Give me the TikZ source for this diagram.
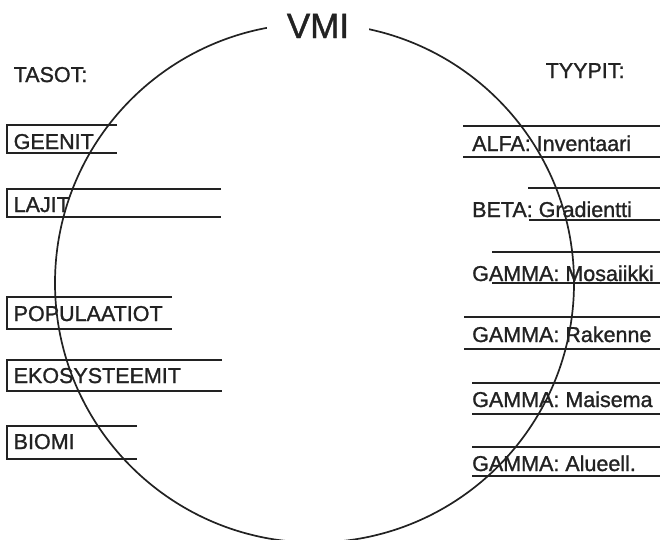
\documentclass[tikz,border=0pt]{standalone}
\usepackage{fontspec}
\setmainfont{Liberation Sans}[FakeBold=1.2]
\definecolor{ink}{HTML}{222222}
\begin{document}
\begin{tikzpicture}[x=1pt,y=-1pt,
  rule/.style={draw=ink, line width=1.7pt},
  lbl/.style={anchor=base west, inner sep=0pt, text=ink, font=\fontsize{21.5}{24}\selectfont}]
\useasboundingbox (0,0) rectangle (660,539);
% big circle
\coordinate (c) at (314.5,283);
\draw[rule] (c) circle[radius=259.5pt];
\node[anchor=base, fill=white, inner xsep=20pt, inner ysep=3pt, text=ink,
      font=\fontsize{35}{40}\selectfont] (vmi) at (318,38) {VMI};
% headings
\node[lbl] (tasot) at (13.5,82) {TASOT:};
\node[lbl] (tyypit) at (545.5,78) {TYYPIT:};
% left: levels
\draw[rule] (117,125) -- (7,125) -- (7,153) -- (117,153);
\node[lbl] (geenit) at (13.5,149) {GEENIT};
\draw[rule] (221,189) -- (7,189) -- (7,217) -- (221,217);
\node[lbl] (lajit) at (13.5,212) {LAJIT};
\draw[rule] (172,297) -- (7,297) -- (7,329) -- (172,329);
\node[lbl] (populaatiot) at (13.5,321) {POPULAATIOT};
\draw[rule] (222,360) -- (7,360) -- (7,391) -- (222,391);
\node[lbl] (ekosysteemit) at (13.5,383) {EKOSYSTEEMIT};
\draw[rule] (137,426) -- (7,426) -- (7,459) -- (137,459);
\node[lbl] (biomi) at (13.5,449) {BIOMI};
% right: types
\draw[rule] (463,126) -- (662,126);
\draw[rule] (463,157) -- (662,157);
\node[lbl] (alfa) at (472,151) {ALFA: Inventaari};
\draw[rule] (528,188) -- (662,188);
\draw[rule] (529,220) -- (662,220);
\node[lbl] (beta) at (472,217) {BETA: Gradientti};
\draw[rule] (492,252) -- (662,252);
\draw[rule] (492,283) -- (662,283);
\node[lbl] (mosaiikki) at (472,281) {GAMMA: Mosaiikki};
\draw[rule] (464,317) -- (662,317);
\draw[rule] (464,349) -- (662,349);
\node[lbl] (rakenne) at (472,342) {GAMMA: Rakenne};
\draw[rule] (472,383) -- (662,383);
\draw[rule] (472,414) -- (662,414);
\node[lbl] (maisema) at (472,407) {GAMMA: Maisema};
\draw[rule] (472,447) -- (662,447);
\draw[rule] (472,476) -- (662,476);
\node[lbl] (alueell) at (472,471) {GAMMA: Alueell.};
\end{tikzpicture}
\end{document}
